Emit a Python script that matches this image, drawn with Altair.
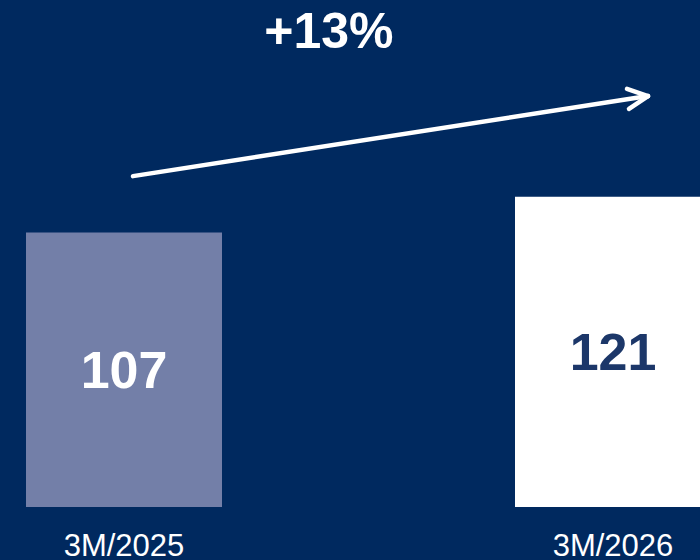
import altair as alt
import pandas as pd

categories = ["3M/2025", "3M/2026"]
values = [107, 121]
positions = [0, 1]
growth_label = "+13%"

# arrow annotation (data coordinates)
arrow_x = [0.0184, 1.0716]
arrow_y = [129.0, 160.2]
head_x = [1.0286, 1.0327]
head_y = [163.0, 155.2]

NAVY = "#00295F"
BAR1 = "#737FA8"
TEXT2 = "#1C3769"

bars_df = pd.DataFrame({"cat": categories, "value": values, "pos": positions,
                        "mid": [v / 2 for v in values]})

xs = alt.Scale(domain=[-0.25358, 1.17791], nice=False, zero=False, padding=0)
ys = alt.Scale(domain=[-20.66, 197.66], nice=False, zero=False, padding=0)
X = lambda f: alt.X(f, type="quantitative", scale=xs, axis=None)
Y = lambda f: alt.Y(f, type="quantitative", scale=ys, axis=None)

bars = alt.Chart(bars_df).mark_bar(size=196, clip=True).encode(
    x=X("pos"), y=Y("value"),
    color=alt.Color("cat:N", scale=alt.Scale(domain=categories, range=[BAR1, "#FFFFFF"]), legend=None),
)

val_text = alt.Chart(bars_df).mark_text(font="Liberation Sans", fontWeight="bold", fontSize=52,
                                        baseline="middle", dy=2).encode(
    x=X("pos"), y=Y("mid"), text=alt.Text("value:Q"),
    fill=alt.Fill("cat:N", scale=alt.Scale(domain=categories, range=["#FFFFFF", TEXT2]), legend=None),
)

cat_text = alt.Chart(bars_df).mark_text(font="Liberation Sans", fontSize=31, color="white",
                                        baseline="alphabetic").encode(
    x=X("pos"), y=alt.value(556), text="cat:N",
)

seg_df = pd.DataFrame({
    "x": [arrow_x[0], head_x[0], head_x[1]],
    "y": [arrow_y[0], head_y[0], head_y[1]],
    "x2": [arrow_x[1]] * 3,
    "y2": [arrow_y[1]] * 3,
})
arrow = alt.Chart(seg_df).mark_rule(color="white", strokeWidth=4.5, strokeCap="round").encode(
    x=X("x"), y=Y("y"), x2="x2", y2="y2",
)

growth_df = pd.DataFrame({"x": [0.419], "y": [184.8], "t": [growth_label]})
growth = alt.Chart(growth_df).mark_text(font="Liberation Sans", fontWeight="bold", fontSize=50,
                                        color="white", baseline="middle").encode(
    x=X("x"), y=Y("y"), text="t:N",
)

chart = alt.layer(bars, val_text, cat_text, arrow, growth).resolve_scale(
    color="independent", fill="independent"
).properties(
    width=700, height=560, background=NAVY, padding=0,
    autosize=alt.AutoSizeParams(type="none"),
).configure_view(stroke=None)

chart.save("out.html", embed_options={"renderer": "svg", "actions": False})
